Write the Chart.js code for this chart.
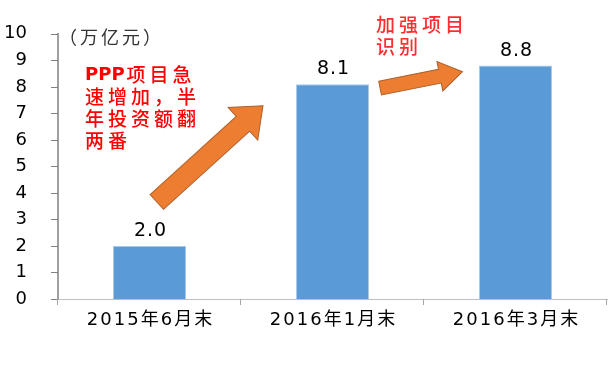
<!DOCTYPE html>
<html>
<head>
<meta charset="utf-8">
<script src="https://cdn.jsdelivr.net/npm/chart.js@4.4.0/dist/chart.umd.min.js"></script>
<style>
  html, body { margin: 0; padding: 0; background: #fff; }
  #wrap { width: 614px; height: 392px; }
</style>
</head>
<body>
<div id="wrap"><canvas id="ppp"></canvas></div>
<script>
const categories = ["2015年6月末", "2016年1月末", "2016年3月末"];
const investment = [2.0, 8.1, 8.8];
const yTicks = [0, 1, 2, 3, 4, 5, 6, 7, 8, 9, 10];
const unitLabel = "（万亿元）";
const note1 = ["PPP项目急", "速增加，半", "年投资额翻", "两番"];
const note2 = ["加强项目", "识别"];

// arrows in data units: [index, value]
const arrows = [
	{ from: [0.04, 3.66], to: [0.62, 7.29], shaft: 20, head: 44, headLen: 27 },
	{ from: [1.26, 7.95], to: [1.71, 8.57], shaft: 14, head: 30, headLen: 23 }
];

const latin = "'DejaVu Sans', sans-serif";
const cjk = "'DejaVu Sans', 'Noto Sans CJK SC', sans-serif";

function drawArrow(ctx, x1, y1, x2, y2, a) {
	const ang = Math.atan2(y2 - y1, x2 - x1);
	const len = Math.hypot(x2 - x1, y2 - y1);
	ctx.save();
	ctx.translate(x1, y1);
	ctx.rotate(ang);
	const s = a.shaft / 2, h = a.head / 2, b = len - a.headLen;
	ctx.beginPath();
	ctx.moveTo(0, -s);
	ctx.lineTo(b, -s);
	ctx.lineTo(b, -h);
	ctx.lineTo(len, 0);
	ctx.lineTo(b, h);
	ctx.lineTo(b, s);
	ctx.lineTo(0, s);
	ctx.closePath();
	ctx.fillStyle = "#ED7D31";
	ctx.fill();
	ctx.strokeStyle = "#B0602A";
	ctx.lineWidth = 1;
	ctx.stroke();
	ctx.restore();
}

const extras = {
	id: "extras",
	afterDraw(chart) {
		const ctx = chart.ctx;
		const x = chart.scales.x, y = chart.scales.y;
		const area = chart.chartArea;

		// tick marks: left of the y axis, under the x axis at category edges
		ctx.save();
		ctx.lineWidth = 1;
		ctx.strokeStyle = "#808080";
		ctx.beginPath();
		yTicks.forEach(function (v) {
			const py = Math.round(y.getPixelForValue(v)) + 0.5;
			ctx.moveTo(area.left - 7, py);
			ctx.lineTo(area.left, py);
		});
		ctx.stroke();
		ctx.strokeStyle = "#A6A6A6";
		ctx.beginPath();
		for (let i = 0; i <= categories.length; i++) {
			const px = Math.round(x.left + i * x.width / categories.length) - 0.5;
			ctx.moveTo(px, area.bottom);
			ctx.lineTo(px, area.bottom + 6);
		}
		ctx.stroke();
		ctx.restore();

		// x category labels (spaced like the original)
		ctx.save();
		ctx.font = "18px " + cjk;
		ctx.fillStyle = "#000";
		ctx.textAlign = "center";
		ctx.textBaseline = "middle";
		ctx.letterSpacing = "2px";
		categories.forEach(function (c, i) {
			ctx.fillText(c, x.getPixelForTick(i) + 1, area.bottom + 21);
		});
		ctx.restore();

		// value labels
		ctx.save();
		ctx.font = "19px " + latin;
		ctx.fillStyle = "#000";
		ctx.textAlign = "center";
		ctx.textBaseline = "middle";
		ctx.letterSpacing = "1px";
		chart.getDatasetMeta(0).data.forEach(function (bar, i) {
			ctx.fillText(investment[i].toFixed(1), bar.x + 1, bar.y - 15);
		});
		ctx.restore();

		// arrows
		const step = x.width / categories.length;
		arrows.forEach(function (a) {
			const fx = x.left + (a.from[0] + 0.5) * step;
			const tx = x.left + (a.to[0] + 0.5) * step;
			drawArrow(ctx, fx, y.getPixelForValue(a.from[1]), tx, y.getPixelForValue(a.to[1]), a);
		});

		// unit label
		ctx.save();
		ctx.font = "18px 'Noto Sans CJK SC', sans-serif";
		ctx.fillStyle = "#333";
		ctx.textBaseline = "middle";
		ctx.letterSpacing = "3px";
		ctx.fillText(unitLabel, area.left + 1, area.top + 3);
		ctx.restore();

		// notes
		ctx.save();
		ctx.fillStyle = "#FF0000";
		ctx.textBaseline = "middle";
		note1.forEach(function (line, i) {
			if (i === 0) {
				ctx.letterSpacing = "0px";
				ctx.font = "bold 18px " + latin;
				ctx.fillText("PPP", 85, 75);
				const w = ctx.measureText("PPP").width;
				ctx.letterSpacing = "4px";
				ctx.font = "500 19px 'Noto Sans CJK SC', sans-serif";
				ctx.fillText(line.slice(3), 87 + w, 75);
			} else {
				ctx.letterSpacing = "4px";
				ctx.font = "500 19px 'Noto Sans CJK SC', sans-serif";
				ctx.fillText(line, 85, 75 + i * 22);
			}
		});
		ctx.fillStyle = "#FF2E2E";
		ctx.letterSpacing = "4px";
		note2.forEach(function (line, i) {
			ctx.font = "500 19px 'Noto Sans CJK SC', sans-serif";
			ctx.fillText(line, 376, 25 + i * 22);
		});
		ctx.restore();
	}
};

new Chart(document.getElementById("ppp"), {
	type: "bar",
	data: {
		labels: categories,
		datasets: [{
			data: investment,
			backgroundColor: "#5B9BD5",
			borderColor: "#A9C9EA",
			borderWidth: 1,
			barPercentage: 0.4,
			categoryPercentage: 1.0
		}]
	},
	options: {
		responsive: true,
		maintainAspectRatio: false,
		animation: false,
		layout: { padding: { top: 26, right: 7, left: 0, bottom: 0 } },
		plugins: {
			legend: { display: false },
			tooltip: { enabled: false }
		},
		scales: {
			x: {
				grid: { display: false },
				border: { color: "#BFBFBF", width: 1 },
				ticks: {
					color: "rgba(0,0,0,0)",
					padding: 4,
					font: { size: 17, family: cjk }
				},
				afterFit: function (scale) { scale.height = 93; }
			},
			y: {
				min: 0,
				max: 10,
				afterBuildTicks: function (scale) {
					scale.ticks = yTicks.map(function (v) { return { value: v }; });
				},
				grid: { display: false },
				border: { color: "#A0A0A0", width: 2 },
				ticks: {
					color: "#000",
					padding: 23,
					font: { size: 18, family: latin }
				},
				afterFit: function (scale) { scale.width = 58; }
			}
		}
	},
	plugins: [extras]
});
</script>
</body>
</html>
